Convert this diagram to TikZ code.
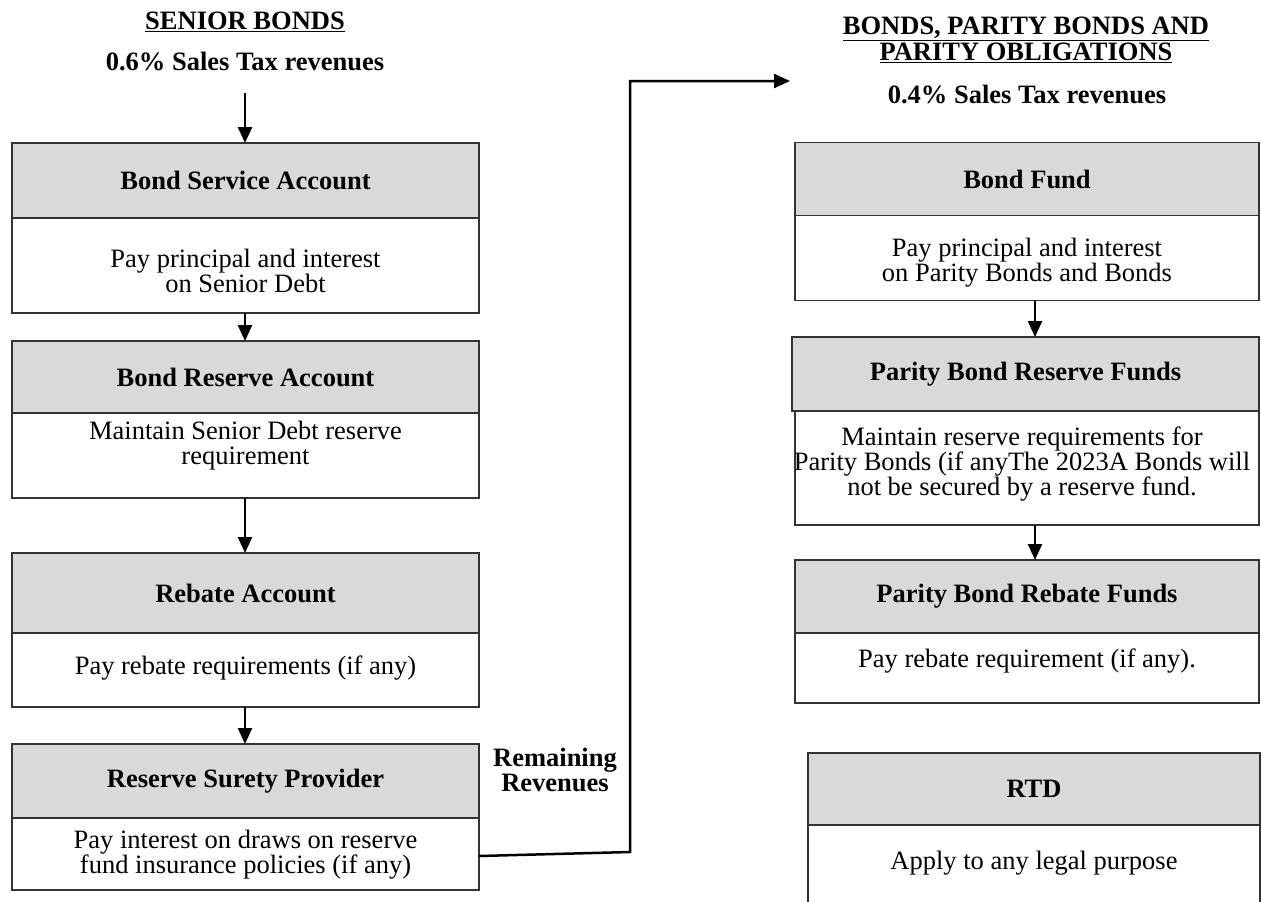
\documentclass[tikz,border=0pt]{standalone}
\usepackage{fontspec}
\setmainfont{Liberation Serif}
\usetikzlibrary{arrows.meta}
\definecolor{headgray}{HTML}{D9D9D9}
\definecolor{edge}{HTML}{333333}
\begin{document}
\begin{tikzpicture}[x=1pt,y=-1pt,
  font=\fontsize{26.5}{25}\selectfont,
  hdr/.style={draw=edge, line width=1.3pt, fill=headgray, inner sep=0pt, outer sep=0pt, font=\fontsize{26.5}{25}\selectfont\bfseries},
  bdy/.style={draw=edge, line width=1.3pt, fill=white, inner sep=0pt, outer sep=0pt},
  txt/.style={align=center, inner sep=0pt},
  ttl/.style={align=center, inner sep=0pt, font=\fontsize{26.5}{25}\selectfont\bfseries},
  conn/.style={line width=2.5pt, draw=black, -{Triangle[width=14pt,length=16pt]}}
]
\useasboundingbox (0,0) rectangle (1261,902);
\clip (0,0) rectangle (1261,902);

% ---------- left column ----------
\node[ttl] (t1) at (245,22) {\underline{SENIOR BONDS}};
\node[ttl] (s1) at (245,61) {0.6\% Sales Tax revenues};

\node[hdr, minimum width=467pt, minimum height=75pt] (bsaH) at (245.5,180.5) {Bond Service Account};
\node[bdy, minimum width=467pt, minimum height=95pt, anchor=north] (bsaB) at (bsaH.south) {};
\node[txt] (bsaT) at (245.5,271) {Pay principal and interest\\on Senior Debt};

\node[hdr, minimum width=467pt, minimum height=72pt] (braH) at (245.5,377) {Bond Reserve Account};
\node[bdy, minimum width=467pt, minimum height=85pt, anchor=north] (braB) at (braH.south) {};
\node[txt] (braT) at (245.5,446) {Maintain Senior Debt reserve\\requirement};

\node[hdr, minimum width=467pt, minimum height=80pt] (raH) at (245.5,593) {Rebate Account};
\node[bdy, minimum width=467pt, minimum height=74pt, anchor=north] (raB) at (raH.south) {};
\node[txt] (raT) at (245.5,668) {Pay rebate requirements (if any)};

\node[hdr, minimum width=467pt, minimum height=74pt] (rspH) at (245.5,781) {Reserve Surety Provider};
\node[bdy, minimum width=467pt, minimum height=72pt, anchor=north] (rspB) at (rspH.south) {};
\node[txt] (rspT) at (245.5,855) {Pay interest on draws on reserve\\fund insurance policies (if any)};

\node[ttl] (rem) at (555,770) {Remaining\\Revenues};

% ---------- right column ----------
\node[ttl, font=\fontsize{26.5}{26.5}\selectfont\bfseries] (t2) at (1026,40) {\underline{BONDS, PARITY BONDS AND}\\\underline{PARITY OBLIGATIONS}};
\node[ttl] (s2) at (1027,94) {0.4\% Sales Tax revenues};

\node[hdr, minimum width=464pt, minimum height=73pt] (bfH) at (1027,179) {Bond Fund};
\node[bdy, minimum width=464pt, minimum height=85pt, anchor=north] (bfB) at (bfH.south) {};
\node[txt] (bfT) at (1027,263) {Pay principal and interest\\on Parity Bonds and Bonds};

\node[hdr, minimum width=467pt, minimum height=74pt] (prH) at (1025.5,374) {Parity Bond Reserve Funds};
\node[bdy, minimum width=464pt, minimum height=114pt, anchor=north] (prB) at (1027,411) {};
\begin{scope}
\clip (prB.north west) rectangle (prB.south east);
\node[txt] (prT) at (1022,464) {Maintain reserve requirements for\\Parity Bonds (if anyThe 2023A Bonds will\\not be secured by a reserve fund.};
\end{scope}

\node[hdr, minimum width=464pt, minimum height=73pt] (pbrH) at (1027,596.5) {Parity Bond Rebate Funds};
\node[bdy, minimum width=464pt, minimum height=70pt, anchor=north] (pbrB) at (pbrH.south) {};
\node[txt] (pbrT) at (1027,661) {Pay rebate requirement (if any).};

\node[hdr, minimum width=452pt, minimum height=72pt] (rtdH) at (1034,789) {RTD};
\node[bdy, minimum width=452pt, minimum height=95pt, anchor=north] (rtdB) at (rtdH.south) {};
\node[txt] (rtdT) at (1034,863) {Apply to any legal purpose};

% ---------- connectors ----------
\coordinate (lx) at (245,0);
\coordinate (rx) at (1035,0);
\draw[conn] (s1.south -| lx) ++(0,22) -- (bsaH.north -| lx);
\draw[conn] (bsaB.south -| lx) -- (braH.north -| lx);
\draw[conn] (braB.south -| lx) -- (raH.north -| lx);
\draw[conn] (raB.south -| lx) -- (rspH.north -| lx);
\draw[conn] (bfB.south -| rx) -- (prH.north -| rx);
\draw[conn] (prB.south -| rx) -- (pbrH.north -| rx);

\coordinate (bend) at (630,852);
\coordinate (top) at (630,81);
\coordinate (tip) at (790,81);
\draw[conn] ([yshift=-2pt]rspB.east) -- (bend) -- (top) -- (tip);
\end{tikzpicture}
\end{document}
